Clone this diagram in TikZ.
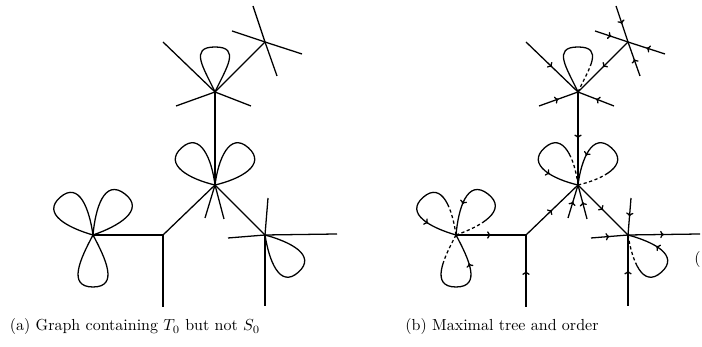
\documentclass[tikz,border=0pt]{standalone}
\usepackage{fontspec}
\usetikzlibrary{arrows.meta,decorations.markings}

\tikzset{
  edge/.style={line width=0.8pt},
  diredge/.style={edge, postaction={decorate},
    decoration={markings, mark=at position 0.5 with {\arrow{To[length=2.4pt,width=4.6pt]}}}},
  startdash/.style={dash pattern=on 2pt off 1.6pt on 2pt off 1.6pt on 2pt off 1.6pt on 2pt off 1.6pt on 2pt off 1.6pt on 400pt off 1pt},
  looparrow/.style={postaction={decorate},
    decoration={markings, mark=at position 0.76 with {\arrow{To[length=2.4pt,width=4.6pt]}}}}
}

\begin{document}
\begin{tikzpicture}[x=0.625pt, y=0.625pt]
    \useasboundingbox (0,0) rectangle (702,347);

    % Ecken und freie Enden, beide Bilder
    \foreach \p/\dx in {a/0, b/363} {
        \begin{scope}[shift={(\dx,0)}]
            \coordinate (\p-T) at (215,255);
            \coordinate (\p-R) at (265,305);
            \coordinate (\p-C) at (215,162);
            \coordinate (\p-J) at (163,112);
            \coordinate (\p-L) at (93,112);
            \coordinate (\p-Q) at (265,112);
            \coordinate (\p-Tul) at (163,305);
            \coordinate (\p-Tll) at (176,241);
            \coordinate (\p-Tlr) at (251,241);
            \coordinate (\p-Ru) at (253,341);
            \coordinate (\p-Rd) at (277,271);
            \coordinate (\p-Rl) at (232,316);
            \coordinate (\p-Rr) at (302,293);
            \coordinate (\p-Cl) at (205,129);
            \coordinate (\p-Cr) at (224,128);
            \coordinate (\p-Jd) at (163,40);
            \coordinate (\p-Qu) at (268,149);
            \coordinate (\p-Qd) at (265,41);
            \coordinate (\p-Ql) at (228,109);
            \coordinate (\p-Qr) at (337,113);
        \end{scope}
    }

    % (a) Graph
    \foreach \s/\t in {T/C, R/T, Tul/T, Tll/T, Tlr/T, Ru/R, Rl/R, Rr/R, Rd/R, Cl/C, Cr/C,
                       J/C, L/J, Jd/J, C/Q, Qu/Q, Ql/Q, Q/Qr, Qd/Q}
        \draw[edge] (a-\s) -- (a-\t);
    \draw[edge] (a-T) to[out=65, in=0, looseness=1.5] ++(90:45) to[out=180, in=115, looseness=1.5] (a-T);
    \foreach \v/\ang/\len/\dl in {C/132/50/35, C/48/50/35, L/131/50/33, L/52/52/33, L/-90/52/28, Q/-48/50/33}
        \draw[edge] (a-\v) to[out=\ang-\dl, in=\ang-90, looseness=1.3] ++(\ang:\len)
                           to[out=\ang+90, in=\ang+\dl, looseness=1.3] (a-\v);

    % (b) Baum mit Orientierung
    \foreach \s/\t in {T/C, R/T, Tul/T, Tll/T, Tlr/T, Ru/R, Rl/R, Rr/R, Rd/R, Cl/C, Cr/C,
                       J/C, L/J, Jd/J, C/Q, Qu/Q, Ql/Q, Q/Qr, Qd/Q}
        \draw[diredge] (b-\s) -- (b-\t);
    \draw[edge, startdash] (b-T) to[out=65, in=0, looseness=1.5] ++(90:45) to[out=180, in=115, looseness=1.5] (b-T);
    \foreach \v/\ang/\len/\dl in {C/132/50/35, C/48/50/35, L/131/50/33, L/52/52/33, L/-90/52/28, Q/-48/50/33}
        \draw[edge, startdash, looparrow] (b-\v) to[out=\ang-\dl, in=\ang-90, looseness=1.3] ++(\ang:\len)
                           to[out=\ang+90, in=\ang+\dl, looseness=1.3] (b-\v);

    % Unterschriften
    \node (capa) at (135,20) {(a) Graph containing $T_0$ but not $S_0$};
    \node (capb) at (502,20) {(b) Maximal tree and order};
    \begin{scope}
        \clip (0,0) rectangle (702,347);
        \node[anchor=west, inner sep=0pt] (cut) at (694,87) {(};
    \end{scope}
\end{tikzpicture}
\end{document}
